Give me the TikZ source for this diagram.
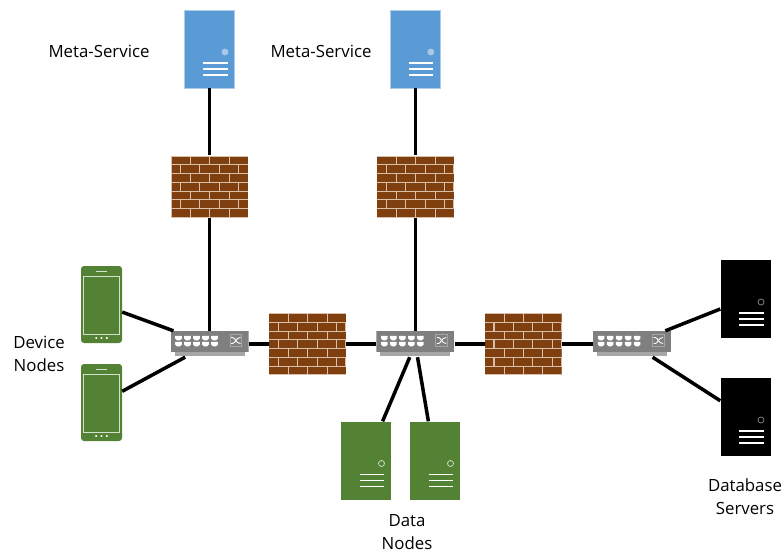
\documentclass[tikz,border=0pt]{standalone}
\usepackage{fontspec}
\setmainfont{Open Sans}
\usepackage{tikz}
\usetikzlibrary{positioning}

\definecolor{metablue}{HTML}{5B9BD5}
\definecolor{metadot}{HTML}{A9C8E8}
\definecolor{nodegreen}{HTML}{548235}
\definecolor{brickred}{HTML}{7F3F0F}
\definecolor{mortar}{HTML}{D9BFA8}
\definecolor{switchgrey}{HTML}{7F7F7F}
\definecolor{lipgrey}{HTML}{A6A6A6}

\tikzset{
  link/.style={line width=3.5pt, black},
  lbl/.style={font=\fontsize{16.8}{23}\selectfont, align=center},
  serverbox/.style n args={3}{rectangle, inner sep=0pt, minimum width=50pt, minimum height=78pt, fill=#1,
    path picture={
      \begin{scope}[shift={(path picture bounding box.center)}]
        \draw[#3, fill=#2, line width=0.8pt] (15.5,3) circle (3);
        \foreach \y in {14,20,26} \draw[white, line width=1.4pt] (-6.5,\y) -- (18,\y);
      \end{scope}
    }},
  metaserver/.style={serverbox={metablue}{metadot}{metadot}, draw=metablue!50, line width=0.8pt},
  dataserver/.style={serverbox={nodegreen}{nodegreen}{white!70!nodegreen}},
  dbserver/.style={serverbox={black}{black}{gray}},
  firewall/.style={rectangle, inner sep=0pt, minimum width=77pt, minimum height=62pt, fill=mortar,
    path picture={
      \begin{scope}[shift={(path picture bounding box.center)}, brickred]
        % long rows
        \foreach \r in {0,2,4,6}
          \foreach \c in {0,1,2,3}
            \fill ({-38+\c*19.4},{-30+\r*8.75}) rectangle ++(18.4,7.8);
        % rows with half bricks at the ends
        \foreach \r in {1,3,5} {
          \fill (-38,{-30+\r*8.75}) rectangle ++(8.2,7.8);
          \foreach \c in {0,1,2}
            \fill ({-28.6+\c*19.4},{-30+\r*8.75}) rectangle ++(18.4,7.8);
          \fill (29.6,{-30+\r*8.75}) rectangle ++(8.4,7.8);
        }
      \end{scope}
    }},
  switchbox/.style={rectangle, inner sep=0pt, minimum width=78pt, minimum height=26pt,
    path picture={
      \begin{scope}[shift={(path picture bounding box.center)}]
        \fill[lipgrey] (-35,7) rectangle (35,12);
        \fill[switchgrey] (-39,-13) rectangle (39,8);
        \foreach \x in {-31,-22,-13,-4,5}
          \foreach \y in {-6,0}
            \fill[white] (\x-3.3,\y-2.2) -- (\x+3.3,\y-2.2) -- (\x+3.3,\y+.5) -- (\x+1.5,\y+2.3) -- (\x-1.5,\y+2.3) -- (\x-3.3,\y+.5) -- cycle;
        \draw[lipgrey, line width=0.9pt] (20.5,-9.5) rectangle (32,2.5);
        \draw[white, line width=0.9pt] (21.5,-6.5) -- (23,-6.5) .. controls (26,-6.5) and (26,-.5) .. (31,-.5);
        \draw[white, line width=0.9pt] (21.5,-.5) -- (23,-.5) .. controls (26,-.5) and (26,-6.5) .. (31,-6.5);
      \end{scope}
    }},
  phone/.style={rectangle, rounded corners=3pt, inner sep=0pt, minimum width=41pt, minimum height=77pt, fill=nodegreen,
    path picture={
      \begin{scope}[shift={(path picture bounding box.center)}]
        \draw[white!75!nodegreen, line width=0.9pt, sharp corners] (-18,-28.5) rectangle (18,29.5);
        \draw[white!75!nodegreen, line width=1pt, sharp corners] (-5.3,-33.5) -- (5.3,-33.5);
        \foreach \x in {-5.3,0,5.3} \fill[white] (\x,33.5) circle (1.2);
      \end{scope}
    }},
}

\begin{document}
\begin{tikzpicture}[x=1pt, y=-1pt]
\useasboundingbox (0,0) rectangle (781,553);

% Switches and the firewalls between them
\node[switchbox] (sw1) at (209.5,344) {};
\node[firewall] (fw3) [right=20pt of sw1] {};
\node[switchbox] (sw2) [right=30pt of fw3] {};
\node[firewall] (fw4) [right=30pt of sw2] {};
\node[switchbox] (sw3) [right=31pt of fw4] {};

% Meta services
\node[firewall] (fw1) [above=113pt of sw1] {};
\node[firewall] (fw2) [above=113pt of sw2] {};
\node[metaserver] (meta1) [above=67pt of fw1] {};
\node[metaserver] (meta2) [above=67pt of fw2] {};

% Devices, data nodes, database servers
\node[phone] (dev1) at (101.5,304.5) {};
\node[phone] (dev2) at (101.5,402.5) {};
\node[dataserver] (data1) at (366,460.5) {};
\node[dataserver] (data2) at (435,460.5) {};
\node[dbserver] (db1) at (745.5,299) {};
\node[dbserver] (db2) at (745.5,417) {};

% Links
\draw[link] (meta1) -- (fw1);
\draw[link] (fw1) -- (sw1);
\draw[link] (meta2) -- (fw2);
\draw[link] (fw2) -- (sw2);
\draw[link] (sw1) -- (fw3);
\draw[link] (fw3) -- (sw2);
\draw[link] (sw2) -- (fw4);
\draw[link] (fw4) -- (sw3);
\draw[link] (dev1) -- (sw1);
\draw[link] (dev2) -- (sw1);
\draw[link] (data1) -- (sw2);
\draw[link] (data2) -- (sw2);
\draw[link] (db1) -- (sw3);
\draw[link] (db2) -- (sw3);

% Labels
\node[lbl] (lmeta1) at (99,51) {Meta-Service};
\node[lbl] (lmeta2) at (321,51) {Meta-Service};
\node[lbl] (ldev) at (39,353.5) {Device\\Nodes};
\node[lbl] (ldata) at (407,532) {Data\\Nodes};
\node[lbl] (ldb) at (745,496.5) {Database\\Servers};

\end{tikzpicture}
\end{document}
